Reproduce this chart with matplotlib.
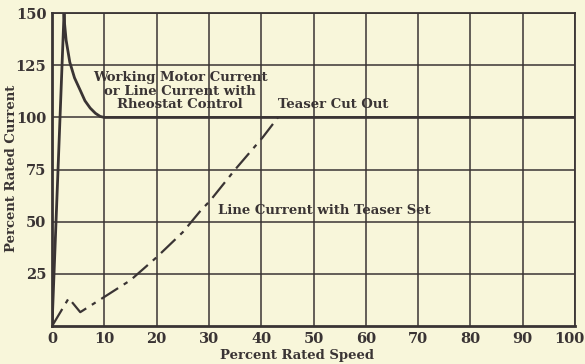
import matplotlib
matplotlib.use("Agg")
import matplotlib.pyplot as plt
from matplotlib.transforms import ScaledTranslation

# Data
motor_x = [0, 2.3, 2.4, 2.7, 3.4, 4.3, 5.4, 6.3, 7.3, 8.3, 9.2, 10, 100]
motor_y = [0, 150, 145, 137, 126.5, 119, 113, 108, 104.5, 102, 100.5, 100, 100]

teaser_x = [0, 3.2, 5.4, 10, 15, 20, 25, 28.5, 30.2, 35, 40.3, 43.2]
teaser_y = [0, 13.4, 6.7, 14, 22, 33, 45, 55.6, 60, 75, 90.5, 100]

x_ticks = [0, 10, 20, 30, 40, 50, 60, 70, 80, 90, 100]
y_ticks = [25, 50, 75, 100, 125, 150]

bg = "#f8f6da"
ink = "#3a3434"

fig = plt.figure(figsize=(5.85, 3.64), dpi=100, facecolor=bg)
ax = fig.add_axes([0.0889, 0.104, 0.894, 0.86], facecolor=bg)
serif = ["DejaVu Serif"]

ax.set_xlim(0, 100)
ax.set_ylim(0, 150)
ax.set_xticks(x_ticks)
ax.set_yticks(y_ticks)
ax.grid(True, color=ink, linewidth=1.1)
for s in ax.spines.values():
    s.set_color(ink)
    s.set_linewidth(1.3)
ax.spines["left"].set_linewidth(2)
ax.spines["bottom"].set_linewidth(2)
ax.tick_params(length=0, pad=4, colors=ink)
for lab in ax.get_xticklabels() + ax.get_yticklabels():
    lab.set_fontfamily(serif)
    lab.set_fontweight("bold")
    lab.set_fontsize(10.5)
last = ax.get_xticklabels()[-1]
last.set_transform(last.get_transform() + ScaledTranslation(-6 / 100, 0, fig.dpi_scale_trans))

ax.plot(motor_x, motor_y, color=ink, linewidth=2)
ax.plot(teaser_x, teaser_y, color=ink, linewidth=1.6, dashes=(9, 3, 2, 3))

tkw = dict(family=serif, color=ink, fontsize=9.5, fontweight="semibold")
ax.text(24.5, 112.5, "Working Motor Current\nor Line Current with\nRheostat Control",
        ha="center", va="center", linespacing=1.05, **tkw)
ax.text(43.3, 106, "Teaser Cut Out", ha="left", va="center", **tkw)
ax.text(31.7, 55.6, "Line Current with Teaser Set", ha="left", va="center", **tkw)

ax.set_xlabel("Percent Rated Speed", **tkw)
ax.xaxis.set_label_coords(0.468, -0.093)
ax.xaxis.label.set_va("center")
ax.set_ylabel("Percent Rated Current", **tkw)
ax.yaxis.set_label_coords(-0.077, 0.503)
ax.yaxis.label.set_va("center")

fig.savefig("out.png", dpi=100, facecolor=bg)
